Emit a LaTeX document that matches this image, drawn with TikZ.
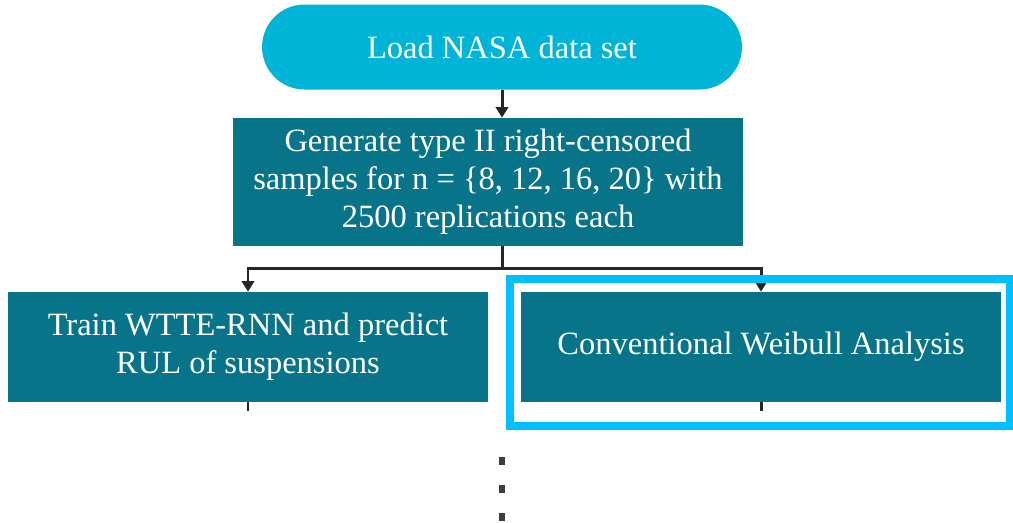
\documentclass[tikz,border=0pt]{standalone}
\usepackage{fontspec}
\setmainfont{Liberation Serif}
\usetikzlibrary{arrows.meta}
\definecolor{loadcyan}{HTML}{00B4D8}
\definecolor{stepteal}{HTML}{07748A}
\definecolor{hilite}{HTML}{00BFFF}
\definecolor{dotgray}{HTML}{3A3F44}
\tikzset{
  procbox/.style={fill=stepteal, text=white, align=center, inner sep=0pt,
    font=\fontsize{18.5}{21.6}\selectfont},
  flow/.style={draw=black!85, line width=1.7pt, -{Triangle[length=6pt,width=7pt]}}
}
\begin{document}
\begin{tikzpicture}[x=0.02cm, y=-0.02cm]
\useasboundingbox (0,0) rectangle (1013,522);
\node[procbox, fill=loadcyan, rounded corners=0.85cm, minimum width=9.6cm, minimum height=1.7cm] (load) at (502,47) {Load NASA data set};
\node[procbox, minimum width=10.2cm, minimum height=2.56cm] (gen) at (488,182) {Generate type II right-censored\\samples for n = \{8, 12, 16, 20\} with\\2500 replications each};
\node[procbox, minimum width=9.6cm, minimum height=2.2cm] (train) at (248,347) {Train WTTE-RNN and predict\\RUL of suspensions};
\node[procbox, minimum width=9.6cm, minimum height=2.2cm] (wba) at (761,347) {Conventional Weibull Analysis};
\coordinate (split) at (502,268);
\coordinate (trainend) at (248,411);
\coordinate (wbaend) at (761,411);
\draw[flow] (load) -- (load.south |- gen.north);
\draw[flow, -] (gen.south -| split) -- (split);
\draw[flow] (split) -| (train.north);
\draw[flow] (split) -| (wba.north);
\draw[flow, -] (train.south) -- (trainend);
\draw[flow, -] (wba.south) -- (wbaend);
% highlight round the conventional analysis
\draw[hilite, line width=0.17cm] (510,279) rectangle (1010,426);
% continuation dots
\foreach \y in {461,489,517}
  \fill[dotgray] (499,\y-4) rectangle (505,\y+4);
\end{tikzpicture}
\end{document}
